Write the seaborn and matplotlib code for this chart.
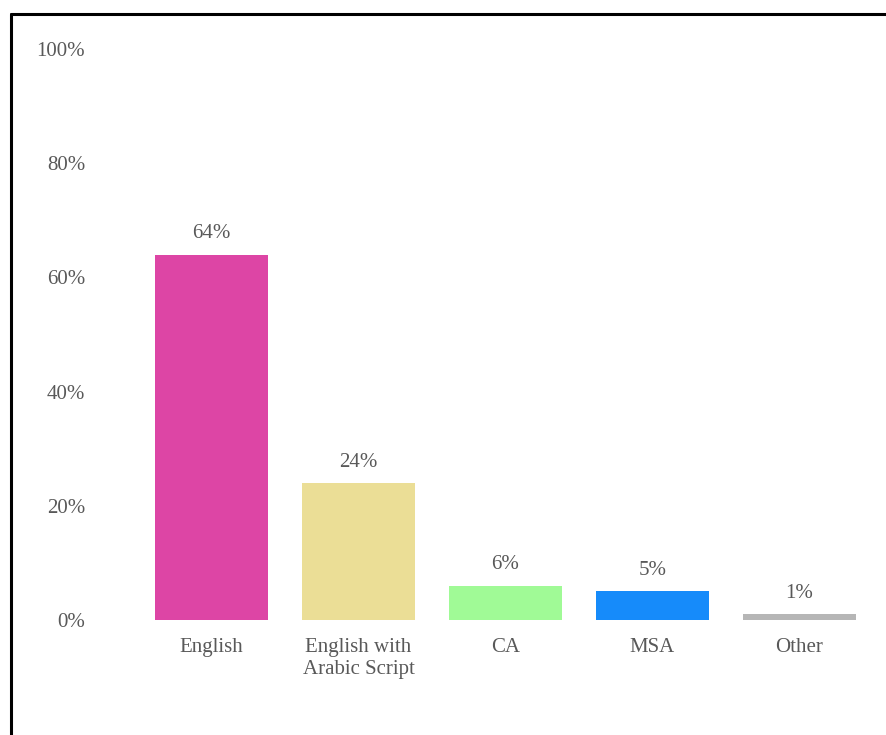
import matplotlib
matplotlib.use("Agg")
import matplotlib.pyplot as plt
from matplotlib.lines import Line2D
import seaborn as sns
import pandas as pd

categories = ["English", "English with\nArabic Script", "CA", "MSA", "Other"]
shares = [64, 24, 6, 5, 1]
bar_colors = ["#DD45A5", "#EBDE96", "#A0FA96", "#168BFA", "#B6B6B6"]
y_ticks = [0, 20, 40, 60, 80, 100]

df = pd.DataFrame({"category": categories, "share": shares})

sns.set_style("white")
plt.rcParams["font.family"] = ["Liberation Serif", "DejaVu Serif"]

W, H = 886, 735
fig = plt.figure(figsize=(W / 100, H / 100), dpi=100)
ax = fig.add_axes([138 / W, (H - 620) / H, (873 - 138) / W, (620 - 49) / H])

sns.barplot(data=df, x="category", y="share", hue="category",
            palette=bar_colors, width=0.77, legend=False, ax=ax,
            saturation=1, edgecolor="none")

text_color = "#595959"
for patch, v in zip(ax.patches, shares):
    ax.text(patch.get_x() + patch.get_width() / 2, v + 2.0, f"{v}%",
            ha="center", va="bottom", fontsize=15, color=text_color)

ax.set_ylim(0, 100)
ax.set_yticks(y_ticks)
ax.set_yticklabels([f"{t}%" for t in y_ticks])
ax.set_xlabel("")
ax.set_ylabel("")
ax.tick_params(axis="y", length=0, pad=38, labelsize=15, labelcolor=text_color)
ax.tick_params(axis="x", length=0, pad=13, labelsize=15, labelcolor=text_color)
for s in ax.spines.values():
    s.set_visible(False)
ax.grid(False)

# frame lines along the top and left edges of the figure
fig.add_artist(Line2D([11 / W, 1], [1 - 14 / H, 1 - 14 / H], color="black", lw=2.2,
                      transform=fig.transFigure))
fig.add_artist(Line2D([11 / W, 11 / W], [0, 1 - 14 / H], color="black", lw=2.2,
                      transform=fig.transFigure))

fig.savefig("out.png", dpi=100, facecolor="white")
